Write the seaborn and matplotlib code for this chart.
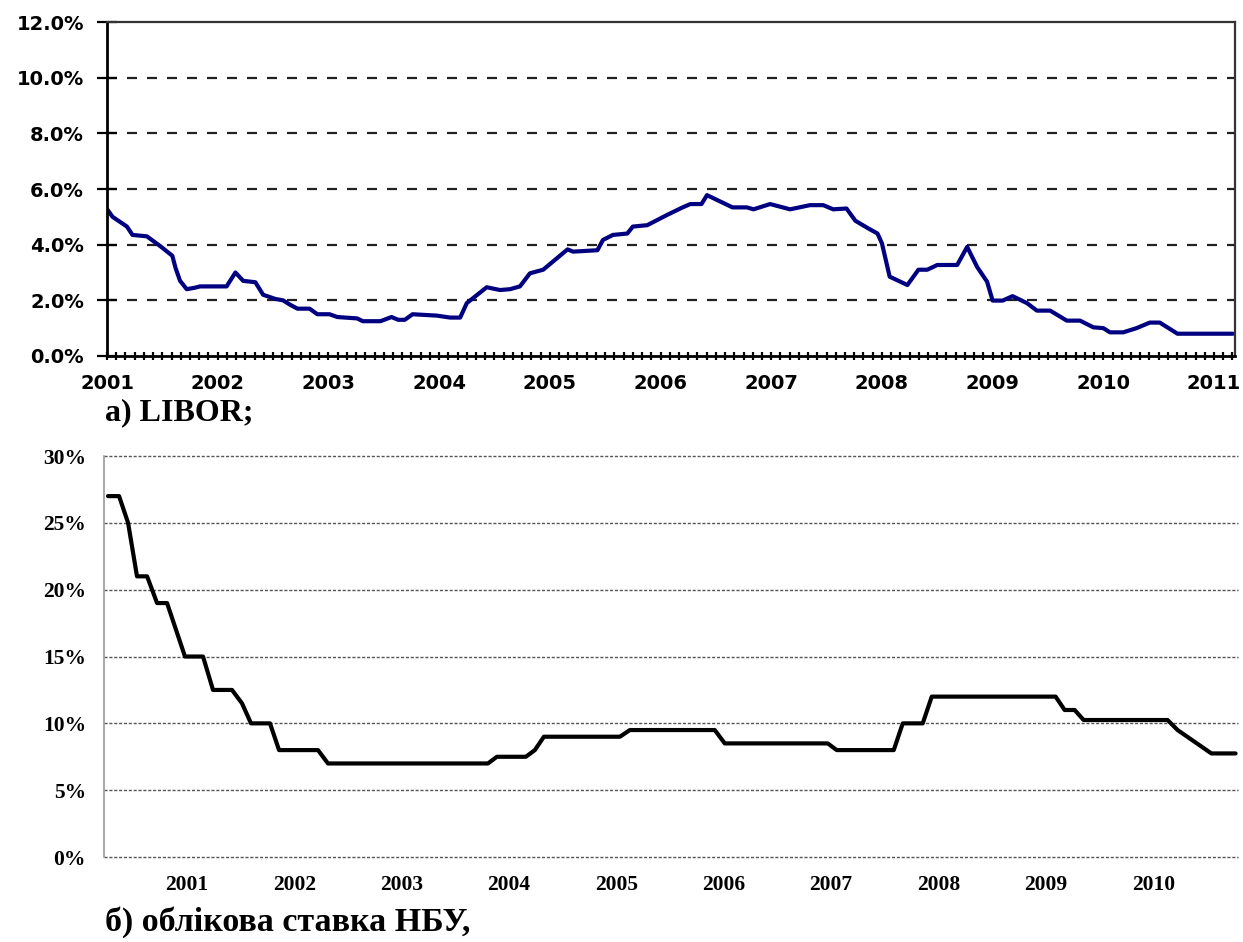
import matplotlib
matplotlib.use("Agg")
import matplotlib.pyplot as plt
from matplotlib.ticker import MultipleLocator, FixedLocator
import seaborn as sns
import pandas as pd

# ---------------- data: LIBOR (decimal year, %) ----------------
libor_dates = [2001.00, 2001.05, 2001.18, 2001.23, 2001.36, 2001.48, 2001.59, 2001.62,
               2001.66, 2001.72, 2001.79, 2001.84, 2002.08, 2002.16, 2002.23, 2002.34,
               2002.41, 2002.52, 2002.59, 2002.65, 2002.72, 2002.83, 2002.90, 2003.01,
               2003.08, 2003.26, 2003.31, 2003.47, 2003.57, 2003.63, 2003.69, 2003.76,
               2003.98, 2004.10, 2004.19, 2004.25, 2004.43, 2004.55, 2004.64, 2004.73,
               2004.82, 2004.94, 2005.16, 2005.21, 2005.43, 2005.48, 2005.57, 2005.70,
               2005.75, 2005.88, 2006.06, 2006.20, 2006.27, 2006.37, 2006.42, 2006.54,
               2006.65, 2006.78, 2006.84, 2006.99, 2007.17, 2007.35, 2007.47, 2007.56,
               2007.68, 2007.76, 2007.87, 2007.96, 2008.00, 2008.07, 2008.23, 2008.33,
               2008.41, 2008.50, 2008.68, 2008.77, 2008.86, 2008.95, 2009.00, 2009.09,
               2009.18, 2009.31, 2009.40, 2009.52, 2009.67, 2009.79, 2009.91, 2010.00,
               2010.06, 2010.18, 2010.30, 2010.42, 2010.51, 2010.67, 2011.17]
libor_values = [5.28, 5.00, 4.65, 4.35, 4.30, 3.95, 3.60, 3.15,
                2.70, 2.40, 2.45, 2.50, 2.50, 3.00, 2.70, 2.65,
                2.20, 2.05, 2.00, 1.85, 1.70, 1.70, 1.50, 1.50,
                1.40, 1.35, 1.25, 1.25, 1.40, 1.30, 1.30, 1.50,
                1.45, 1.38, 1.38, 1.90, 2.47, 2.37, 2.40, 2.50,
                2.97, 3.10, 3.83, 3.75, 3.80, 4.17, 4.35, 4.40,
                4.65, 4.70, 5.07, 5.34, 5.46, 5.46, 5.78, 5.55,
                5.34, 5.34, 5.27, 5.46, 5.27, 5.42, 5.42, 5.27,
                5.30, 4.86, 4.60, 4.40, 4.05, 2.85, 2.55, 3.10,
                3.10, 3.27, 3.27, 3.92, 3.20, 2.67, 1.99, 1.99,
                2.15, 1.90, 1.63, 1.63, 1.27, 1.27, 1.03, 1.00,
                0.85, 0.85, 1.00, 1.20, 1.20, 0.80, 0.80]

libor_yticks = [0, 2, 4, 6, 8, 10, 12]
libor_ylabels = ["0.0%", "2.0%", "4.0%", "6.0%", "8.0%", "10.0%", "12.0%"]
libor_years = list(range(2001, 2012))

# ---------------- data: NBU discount rate (decimal year, %) ----------------
nbu_dates = [2000.264, 2000.367, 2000.451, 2000.534, 2000.628, 2000.721, 2000.814,
             2000.981, 2001.149, 2001.242, 2001.419, 2001.512, 2001.596, 2001.773,
             2001.857, 2002.220, 2002.313, 2003.803, 2003.886, 2004.156, 2004.240,
             2004.324, 2005.032, 2005.125, 2005.916, 2006.009, 2006.968, 2007.052,
             2007.583, 2007.667, 2007.853, 2007.937, 2009.091, 2009.175, 2009.268,
             2009.352, 2010.134, 2010.227, 2010.542, 2010.767]
nbu_values = [27.0, 27.0, 25.0, 21.0, 21.0, 19.0, 19.0,
              15.0, 15.0, 12.5, 12.5, 11.5, 10.0, 10.0,
              8.0, 8.0, 7.0, 7.0, 7.5, 7.5, 8.0,
              9.0, 9.0, 9.5, 9.5, 8.5, 8.5, 8.0,
              8.0, 10.0, 10.0, 12.0, 12.0, 11.0, 11.0,
              10.25, 10.25, 9.5, 7.75, 7.75]

nbu_yticks = [0, 5, 10, 15, 20, 25, 30]
nbu_ylabels = ["0%", "5%", "10%", "15%", "20%", "25%", "30%"]
nbu_years = list(range(2001, 2011))

caption_a = "а) LIBOR;"
caption_b = "б) облікова ставка НБУ,"

# ---------------- figure ----------------
sns.set_style("white")
plt.rcParams["font.family"] = ["DejaVu Sans"]
plt.rcParams["text.color"] = "black"
plt.rcParams["xtick.color"] = "black"
plt.rcParams["ytick.color"] = "black"
plt.rcParams["xtick.labelcolor"] = "black"
plt.rcParams["ytick.labelcolor"] = "black"

fig = plt.figure(figsize=(12.43, 9.42), dpi=100)
ax1 = fig.add_axes([0.0861, 0.6221, 0.9075, 0.3545])
ax2 = fig.add_axes([0.0837, 0.0902, 0.9123, 0.4257])

# ---- top chart: LIBOR ----
df1 = pd.DataFrame({"date": libor_dates, "rate": libor_values})
sns.lineplot(data=df1, x="date", y="rate", ax=ax1, color="#000080",
             linewidth=3.0, estimator=None, sort=False)
ax1.set_xlim(2001.0, 2011.19)
ax1.set_ylim(0, 12)
ax1.set_xlabel("")
ax1.set_ylabel("")
ax1.yaxis.set_major_locator(FixedLocator(libor_yticks))
ax1.set_yticklabels(libor_ylabels)
ax1.xaxis.set_major_locator(FixedLocator(libor_years))
ax1.set_xticklabels([str(y) for y in libor_years])
ax1.xaxis.set_minor_locator(MultipleLocator(1 / 12))
for yv in libor_yticks[1:-1]:
    ax1.axhline(yv, color="#222222", linewidth=1.6, dashes=(4.5, 4.5), zorder=0)
for side in ["left", "bottom"]:
    ax1.spines[side].set_color("black")
    ax1.spines[side].set_linewidth(2.0)
for side in ["top", "right"]:
    ax1.spines[side].set_color("#333333")
    ax1.spines[side].set_linewidth(1.6)
ax1.tick_params(axis="y", which="major", direction="inout", length=15, width=1.6,
                left=True, pad=9, labelsize=14, colors="black")
ax1.tick_params(axis="x", which="both", direction="inout", length=6, width=1.6,
                bottom=True, pad=10, labelsize=14, colors="black")
for lab in ax1.get_yticklabels() + ax1.get_xticklabels():
    lab.set_fontweight("bold")
    lab.set_family("DejaVu Sans")

# ---- bottom chart: NBU rate ----
df2 = pd.DataFrame({"date": nbu_dates, "rate": nbu_values})
sns.lineplot(data=df2, x="date", y="rate", ax=ax2, color="black",
             linewidth=3.0, estimator=None, sort=False)
ax2.set_xlim(2000.227, 2010.79)
ax2.set_ylim(0, 30)
ax2.set_xlabel("")
ax2.set_ylabel("")
ax2.yaxis.set_major_locator(FixedLocator(nbu_yticks))
ax2.set_yticklabels(nbu_ylabels)
ax2.xaxis.set_major_locator(FixedLocator(nbu_years))
ax2.set_xticklabels([str(y) for y in nbu_years])
for yv in nbu_yticks:
    ax2.axhline(yv, color="#555555", linewidth=1.0, dashes=(2.2, 1.3), zorder=0,
                clip_on=False)
for side in ["top", "right", "bottom"]:
    ax2.spines[side].set_visible(False)
ax2.spines["left"].set_color("#999999")
ax2.spines["left"].set_linewidth(1.2)
ax2.tick_params(axis="both", which="both", length=0, pad=13, labelsize=15.5,
                colors="black")
for lab in ax2.get_yticklabels() + ax2.get_xticklabels():
    lab.set_fontweight("bold")
    lab.set_family("Liberation Serif")

# ---- captions ----
fig.text(105 / 1243, 1 - 420 / 942, caption_a, fontsize=23, fontweight="bold",
         family="Liberation Serif", ha="left", va="baseline", color="black")
fig.text(105 / 1243, 1 - 931 / 942, caption_b, fontsize=24.5, fontweight="bold",
         family="Liberation Serif", ha="left", va="baseline", color="black")

fig.savefig("out.png", dpi=100)
